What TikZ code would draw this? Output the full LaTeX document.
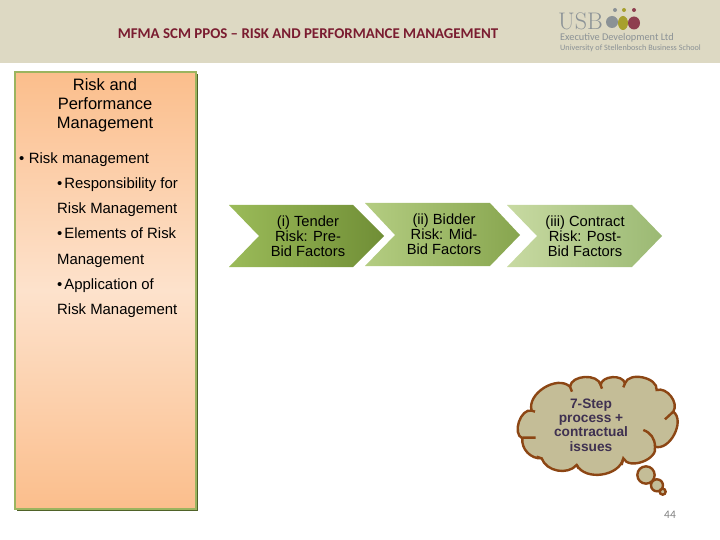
\documentclass[tikz,border=0pt]{standalone}
\usepackage{fontspec}
\setmainfont{Liberation Sans}
\newfontfamily\cbfont{Carlito}
\usetikzlibrary{positioning}
\definecolor{bandc}{RGB}{221,217,195}
\definecolor{titlec}{RGB}{122,28,48}
\definecolor{logoc}{RGB}{139,146,150}
\definecolor{edgec}{RGB}{155,180,95}
\definecolor{shadec}{RGB}{79,98,40}
\definecolor{cloudc}{RGB}{196,189,151}
\definecolor{cedgec}{RGB}{140,70,20}
\definecolor{ctextc}{RGB}{63,49,81}
\definecolor{orgac}{RGB}{251,190,140}
\definecolor{orgbc}{RGB}{253,226,204}
\definecolor{cvaac}{RGB}{155,187,89}
\definecolor{cvabc}{RGB}{112,142,54}
\definecolor{cvbac}{RGB}{180,205,130}
\definecolor{cvbbc}{RGB}{135,165,78}
\definecolor{cvcac}{RGB}{200,218,162}
\definecolor{cvcbc}{RGB}{155,185,115}
\begin{document}
\begin{tikzpicture}[x=1pt, y=-1pt,
  hd/.style={align=center, inner sep=0pt, font=\fontsize{16.5}{19}\selectfont},
  lt/.style={inner sep=0pt, anchor=base west, font=\fontsize{14.9}{17}\selectfont},
  cv/.style={align=center, inner sep=0pt, font=\fontsize{14.7}{15}\selectfont},
  cl/.style={draw=cedgec, fill=cloudc, line width=2.4pt},
  cs/.style={draw=cedgec, line width=2.4pt}]
\useasboundingbox (0,0) rectangle (720,540);
\fill[bandc] (0,0) rectangle (720,63);
\node[inner sep=0pt, text=titlec, font=\cbfont\bfseries\fontsize{14.9}{16}\selectfont] (title) at (308,34) {MFMA SCM PPOS – RISK AND PERFORMANCE MANAGEMENT};
% logo
\node[inner sep=0pt, anchor=base west, text=logoc, font=\fontfamily{lmr}\fontsize{24}{24}\selectfont] (usb) at (558,30) {USB};
\node[inner sep=0pt, anchor=base west, text=logoc, font=\cbfont\fontsize{10.3}{12}\selectfont] (edl) at (560,41) {Executive Development Ltd};
\node[inner sep=0pt, anchor=base west, text=logoc, font=\cbfont\fontsize{8.2}{10}\selectfont] (uni) at (560,51) {University of Stellenbosch Business School};
\fill[logoc] (615,10) circle (2) (612,22) ellipse (6 and 6);
\fill[olive!70!bandc] (624,10) circle (2) (623,23) ellipse (5 and 7);
\fill[titlec!85!white] (634,10) circle (2) (634,23) ellipse (6 and 6.5);
% left panel
\fill[shadec] (16.5,74.5) rectangle (198,510.5);
\node[draw=edgec, line width=2pt, inner sep=0pt, minimum width=181.5pt, minimum height=436pt,
  top color=orgac, bottom color=orgac, middle color=orgbc] (panel) at (105.25,290.5) {};
\node[hd] (head) at (105,105) {Risk and\\Performance\\Management};
\node[lt] (l1) at (19,163.3) {\textbullet\hspace{4.5pt}Risk management};
\node[lt, below=25.2pt of l1.base west, anchor=base west, xshift=38pt] (l2) {\textbullet\hspace{2pt}Responsibility for};
\node[lt, below=25.2pt of l2.base west, anchor=base west] (l3) {Risk Management};
\node[lt, below=25.2pt of l3.base west, anchor=base west] (l4) {\textbullet\hspace{2pt}Elements of Risk};
\node[lt, below=25.2pt of l4.base west, anchor=base west] (l5) {Management};
\node[lt, below=25.2pt of l5.base west, anchor=base west] (l6) {\textbullet\hspace{2pt}Application of};
\node[lt, below=25.2pt of l6.base west, anchor=base west] (l7) {Risk Management};
% chevrons
\shade[shading angle=-60, left color=cvaac, right color=cvabc] (229,205) -- (353,205) -- (384,236) -- (353,267) -- (229,267) -- (259,236) -- cycle;
\shade[shading angle=-60, left color=cvbac, right color=cvbbc] (365,203) -- (490,203) -- (520,235) -- (490,266) -- (365,266) -- (395,235) -- cycle;
\shade[shading angle=-60, left color=cvcac, right color=cvcbc] (507,205) -- (632,205) -- (662,236) -- (632,267) -- (507,267) -- (537,236) -- cycle;
\node[cv] (t1) at (308,236) {(i) Tender\\Risk: Pre-\\Bid Factors};
\node[cv] (t2) at (444,234) {(ii) Bidder\\Risk: Mid-\\Bid Factors};
\node[cv] (t3) at (585,236) {(iii) Contract\\Risk: Post-\\Bid Factors};
% thought cloud
\begin{scope}[shift={(480,370)}, x=.3333pt, y=-.3333pt]
\path[cl] (155,122) to[bend left=75] (270,50) to[bend left=80] (362,45) to[bend left=80] (435,40)
  to[bend left=85] (530,60) to[bend left=70] (580,125) to[bend left=80] (525,230)
  to[bend left=85] (430,265) to[bend left=70] (290,285) to[bend left=60] (185,265)
  to[bend left=50] (127,205) to[bend left=85] cycle;
\draw[cs] (155,122) -- (165,125) (127,203) -- (167,203) (185,265) -- (170,260) (290,285) -- (296,296)
  (430,265) -- (425,285) (490,180) to[bend left=35] (525,230) (580,125) -- (555,148)
  (270,50) -- (276,65) (362,45) -- (366,56) (435,40) -- (430,52);
\draw[cl] (498,315) circle (26) (531,346) circle (18) (548,365) circle (9);
\end{scope}
\node[align=center, inner sep=0pt, text=ctextc, font=\bfseries\fontsize{13.7}{14.4}\selectfont] (ct) at (591,425) {7-Step\\process +\\contractual\\issues};
\node[inner sep=0pt, text=gray, font=\cbfont\fontsize{11.5}{13}\selectfont] (pg) at (670,515) {44};
\end{tikzpicture}
\end{document}
